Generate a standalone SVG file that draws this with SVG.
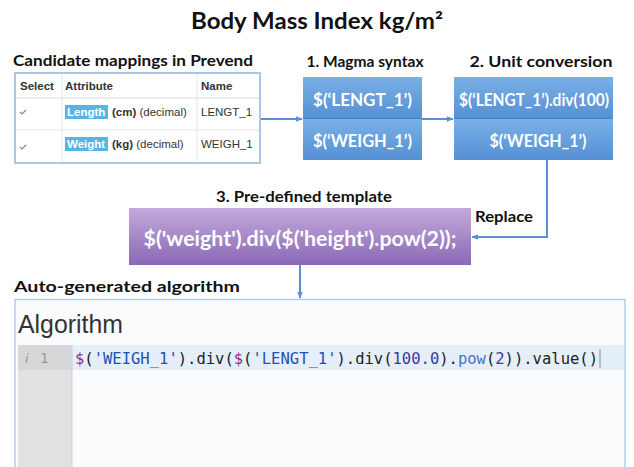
<svg xmlns="http://www.w3.org/2000/svg" width="634" height="467" viewBox="0 0 634 467">
<defs>
<linearGradient id="gBlue" x1="0" y1="0" x2="0" y2="1">
<stop offset="0" stop-color="#79b0e6"/>
<stop offset="1" stop-color="#5590d4"/>
</linearGradient>
<linearGradient id="gPurple" x1="0" y1="0" x2="0" y2="1">
<stop offset="0" stop-color="#c3a9da"/>
<stop offset="1" stop-color="#8a69b6"/>
</linearGradient>
<marker id="arr" viewBox="0 0 10 10" refX="9" refY="5" markerWidth="7" markerHeight="7" orient="auto" markerUnits="userSpaceOnUse">
<path d="M0,1 L10,5 L0,9 Z" fill="#5b8fd2"/>
</marker>
<style>
.ttl{font-family:Lato,"Open Sans","Liberation Sans",sans-serif;font-weight:bold;fill:#111}
.tbl{font-family:"Liberation Sans",Arial,sans-serif;font-size:11.5px;fill:#333}
.b{font-weight:bold}
.box{font-family:Lato,"Open Sans","Liberation Sans",sans-serif;font-weight:bold;fill:#fff;font-size:16.5px}
.conn{fill:none;stroke:#5b8fd2;stroke-width:2}
.code{font-family:"DejaVu Sans Mono","Liberation Mono",monospace;font-size:15px;fill:#222}
.dl{fill:#9c2a8c}
.str{fill:#1f4fb8}
.num{fill:#3a3aa0}
.fn{fill:#4d6fc4}
</style>
</defs>
<rect width="634" height="467" fill="#fff"/>

<text class="ttl" x="317" y="29" font-size="22" text-anchor="middle" textLength="252" lengthAdjust="spacingAndGlyphs">Body Mass Index kg/m²</text>

<g id="candidates">
<text class="ttl" x="13" y="66" font-size="15.5" textLength="240" lengthAdjust="spacingAndGlyphs">Candidate mappings in Prevend</text>
<rect x="15" y="73" width="245" height="90" fill="#fff" stroke="#a9c6e6" stroke-width="2"/>
<line x1="16" y1="98" x2="259" y2="98" stroke="#dcdcdc"/>
<line x1="16" y1="130" x2="259" y2="130" stroke="#e4e4e4"/>
<line x1="62" y1="74" x2="62" y2="162" stroke="#e6e6e6"/>
<line x1="197" y1="74" x2="197" y2="162" stroke="#e6e6e6"/>
<text class="tbl b" x="20" y="90">Select</text>
<text class="tbl b" x="65" y="90">Attribute</text>
<text class="tbl b" x="201" y="90">Name</text>
<path d="M20,112 l2,2 l4,-4" fill="none" stroke="#888" stroke-width="1.2"/>
<path d="M20,147 l2,2 l4,-4" fill="none" stroke="#888" stroke-width="1.2"/>
<rect x="65" y="105" width="43" height="14" fill="#55b5e6"/>
<text class="tbl b" x="67" y="116" style="fill:#fff">Length</text>
<text class="tbl" x="112" y="116"><tspan class="b">(cm)</tspan> (decimal)</text>
<text class="tbl" x="201" y="116">LENGT_1</text>
<rect x="65" y="137" width="43" height="14" fill="#55b5e6"/>
<text class="tbl b" x="67" y="148" style="fill:#fff">Weight</text>
<text class="tbl" x="112" y="148"><tspan class="b">(kg)</tspan> (decimal)</text>
<text class="tbl" x="201" y="148">WEIGH_1</text>
</g>

<g id="magma">
<text class="ttl" x="365" y="67" font-size="15.5" text-anchor="middle" textLength="117" lengthAdjust="spacingAndGlyphs">1. Magma syntax</text>
<rect x="303" y="77" width="119" height="41" fill="url(#gBlue)"/>
<rect x="303" y="119" width="119" height="41" fill="url(#gBlue)"/>
<line x1="303" y1="118.5" x2="422" y2="118.5" stroke="#4a82c4"/>
<text class="box" x="362.5" y="106" text-anchor="middle" textLength="99" lengthAdjust="spacingAndGlyphs">$(‘LENGT_1’)</text>
<text class="box" x="362.5" y="147" text-anchor="middle" textLength="99" lengthAdjust="spacingAndGlyphs">$(‘WEIGH_1’)</text>
</g>

<g id="unit">
<text class="ttl" x="541" y="67" font-size="15.5" text-anchor="middle" textLength="143" lengthAdjust="spacingAndGlyphs">2. Unit conversion</text>
<rect x="454" y="77" width="159" height="41" fill="url(#gBlue)"/>
<rect x="454" y="119" width="159" height="41" fill="url(#gBlue)"/>
<line x1="454" y1="118.5" x2="613" y2="118.5" stroke="#4a82c4"/>
<text class="box" x="534" y="106" text-anchor="middle" textLength="150" lengthAdjust="spacingAndGlyphs">$(‘LENGT_1’).div(100)</text>
<text class="box" x="538" y="147" text-anchor="middle" textLength="97" lengthAdjust="spacingAndGlyphs">$(‘WEIGH_1’)</text>
</g>

<g id="template">
<text class="ttl" x="304" y="202" font-size="15.5" text-anchor="middle" textLength="176" lengthAdjust="spacingAndGlyphs">3. Pre-defined template</text>
<rect x="129" y="208" width="342" height="57" fill="url(#gPurple)"/>
<text class="box" x="300" y="246" text-anchor="middle" textLength="313" lengthAdjust="spacingAndGlyphs" style="font-size:20px">$('weight').div($('height').pow(2));</text>
</g>

<g id="connectors">
<line class="conn" x1="261" y1="119" x2="302" y2="119" marker-end="url(#arr)"/>
<line class="conn" x1="422" y1="119" x2="453" y2="119" marker-end="url(#arr)"/>
<polyline class="conn" points="547,160 547,237 472,237" marker-end="url(#arr)"/>
<line class="conn" x1="300" y1="265" x2="300" y2="298" marker-end="url(#arr)"/>
<text class="ttl" x="475" y="222" font-size="15" textLength="58" lengthAdjust="spacingAndGlyphs">Replace</text>
</g>

<g id="algorithm">
<text class="ttl" x="14" y="292" font-size="15" textLength="226" lengthAdjust="spacingAndGlyphs">Auto-generated algorithm</text>
<rect x="15" y="299.5" width="610" height="180" fill="#fbfcfe" stroke="#b3cde9" stroke-width="1.5"/>
<text x="18" y="333" font-family="'Liberation Sans',Arial,sans-serif" font-size="25" fill="#333" textLength="105" lengthAdjust="spacingAndGlyphs">Algorithm</text>
<rect x="72" y="345" width="552" height="25" fill="#e5effa"/>
<rect x="18" y="345" width="54" height="130" fill="#e2e2e4"/>
<rect x="18" y="345" width="54" height="25" fill="#d7d7da"/>
<line x1="72" y1="345" x2="72" y2="467" stroke="#cfcfd2"/>
<text x="25" y="363" font-family="'DejaVu Sans',sans-serif" font-size="13" fill="#999" font-style="italic">i</text>
<text x="40" y="363" font-family="'DejaVu Sans Mono',monospace" font-size="14" fill="#999">1</text>
<text class="code" x="75" y="364" textLength="523" lengthAdjust="spacingAndGlyphs"><tspan class="dl">$</tspan>(<tspan class="str">'WEIGH_1'</tspan>).div(<tspan class="dl">$</tspan>(<tspan class="str">'LENGT_1'</tspan>).div(<tspan class="num">100.0</tspan>).<tspan class="fn">pow</tspan>(<tspan class="num">2</tspan>)).value()</text>
<line x1="600" y1="349" x2="600" y2="368" stroke="#888" stroke-width="1"/>
</g>
</svg>
